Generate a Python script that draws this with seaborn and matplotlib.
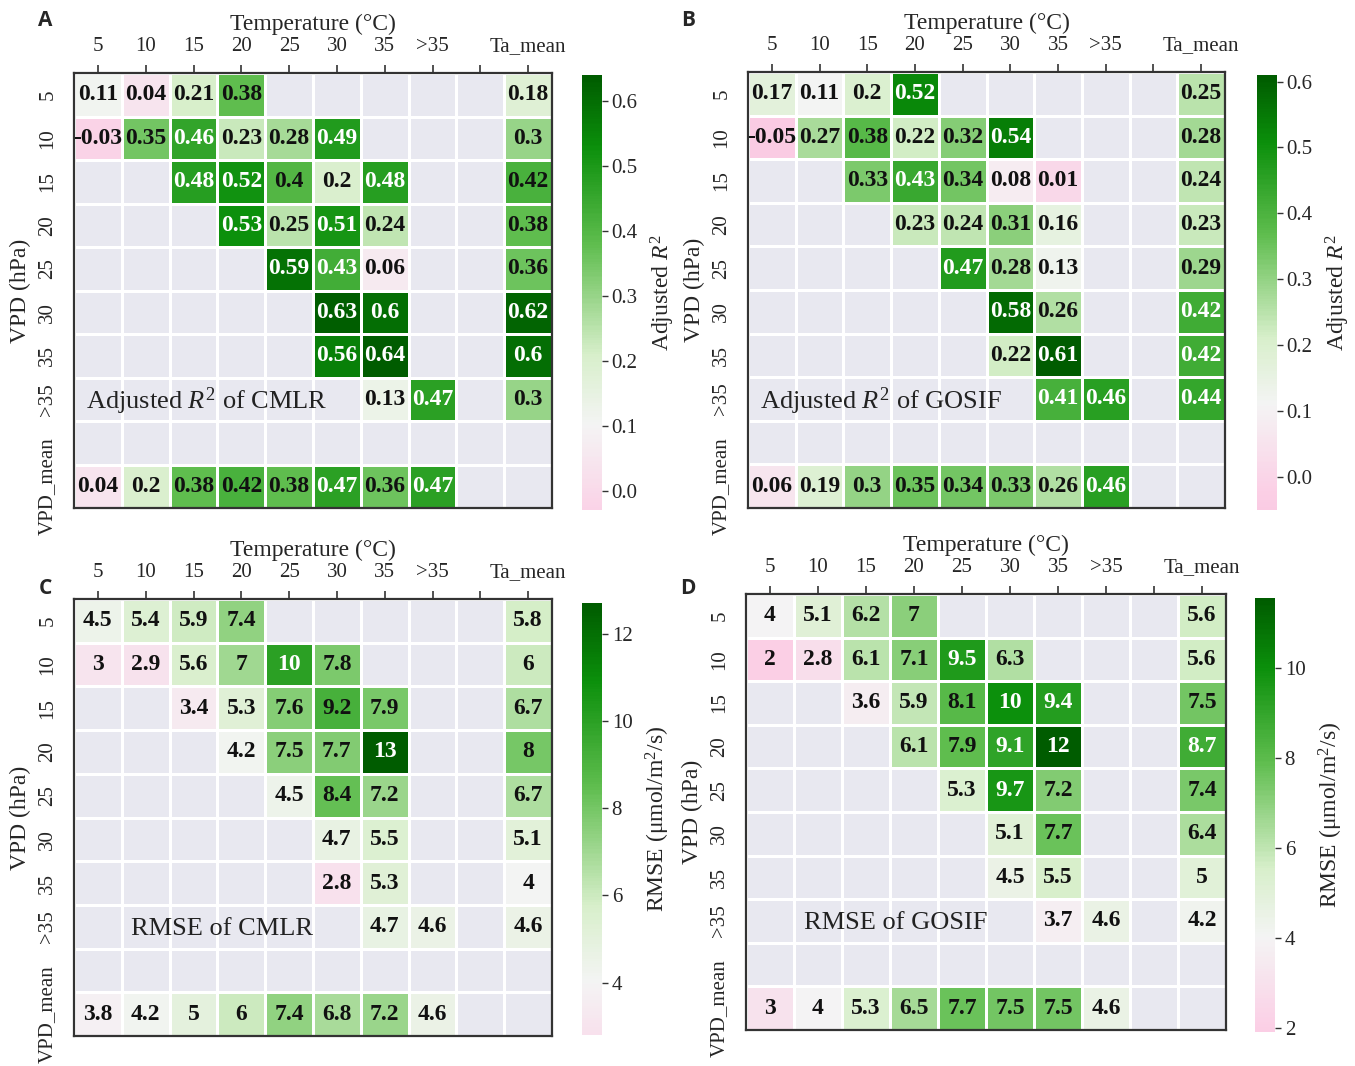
import numpy as np
import pandas as pd
import matplotlib
matplotlib.use('Agg')
import matplotlib.pyplot as plt
import seaborn as sns
from matplotlib.colors import LinearSegmentedColormap, ListedColormap

nan = np.nan

# axis categories
temp_labels = ['5', '10', '15', '20', '25', '30', '35', '>35', '', 'Ta_mean']
vpd_labels = ['5', '10', '15', '20', '25', '30', '35', '>35', '', 'VPD_mean']

# adjusted R2 of CMLR
r2_cmlr = [
    [0.11, 0.04, 0.21, 0.38, nan, nan, nan, nan, nan, 0.18],
    [-0.03, 0.35, 0.46, 0.23, 0.28, 0.49, nan, nan, nan, 0.3],
    [nan, nan, 0.48, 0.52, 0.4, 0.2, 0.48, nan, nan, 0.42],
    [nan, nan, nan, 0.53, 0.25, 0.51, 0.24, nan, nan, 0.38],
    [nan, nan, nan, nan, 0.59, 0.43, 0.06, nan, nan, 0.36],
    [nan, nan, nan, nan, nan, 0.63, 0.6, nan, nan, 0.62],
    [nan, nan, nan, nan, nan, 0.56, 0.64, nan, nan, 0.6],
    [nan, nan, nan, nan, nan, nan, 0.13, 0.47, nan, 0.3],
    [nan, nan, nan, nan, nan, nan, nan, nan, nan, nan],
    [0.04, 0.2, 0.38, 0.42, 0.38, 0.47, 0.36, 0.47, nan, nan],
]

# adjusted R2 of GOSIF
r2_gosif = [
    [0.17, 0.11, 0.2, 0.52, nan, nan, nan, nan, nan, 0.25],
    [-0.05, 0.27, 0.38, 0.22, 0.32, 0.54, nan, nan, nan, 0.28],
    [nan, nan, 0.33, 0.43, 0.34, 0.08, 0.01, nan, nan, 0.24],
    [nan, nan, nan, 0.23, 0.24, 0.31, 0.16, nan, nan, 0.23],
    [nan, nan, nan, nan, 0.47, 0.28, 0.13, nan, nan, 0.29],
    [nan, nan, nan, nan, nan, 0.58, 0.26, nan, nan, 0.42],
    [nan, nan, nan, nan, nan, 0.22, 0.61, nan, nan, 0.42],
    [nan, nan, nan, nan, nan, nan, 0.41, 0.46, nan, 0.44],
    [nan, nan, nan, nan, nan, nan, nan, nan, nan, nan],
    [0.06, 0.19, 0.3, 0.35, 0.34, 0.33, 0.26, 0.46, nan, nan],
]

# RMSE of CMLR
rmse_cmlr = [
    [4.5, 5.4, 5.9, 7.4, nan, nan, nan, nan, nan, 5.8],
    [3, 2.9, 5.6, 7, 10, 7.8, nan, nan, nan, 6],
    [nan, nan, 3.4, 5.3, 7.6, 9.2, 7.9, nan, nan, 6.7],
    [nan, nan, nan, 4.2, 7.5, 7.7, 13, nan, nan, 8],
    [nan, nan, nan, nan, 4.5, 8.4, 7.2, nan, nan, 6.7],
    [nan, nan, nan, nan, nan, 4.7, 5.5, nan, nan, 5.1],
    [nan, nan, nan, nan, nan, 2.8, 5.3, nan, nan, 4],
    [nan, nan, nan, nan, nan, nan, 4.7, 4.6, nan, 4.6],
    [nan, nan, nan, nan, nan, nan, nan, nan, nan, nan],
    [3.8, 4.2, 5, 6, 7.4, 6.8, 7.2, 4.6, nan, nan],
]

# RMSE of GOSIF
rmse_gosif = [
    [4, 5.1, 6.2, 7, nan, nan, nan, nan, nan, 5.6],
    [2, 2.8, 6.1, 7.1, 9.5, 6.3, nan, nan, nan, 5.6],
    [nan, nan, 3.6, 5.9, 8.1, 10, 9.4, nan, nan, 7.5],
    [nan, nan, nan, 6.1, 7.9, 9.1, 12, nan, nan, 8.7],
    [nan, nan, nan, nan, 5.3, 9.7, 7.2, nan, nan, 7.4],
    [nan, nan, nan, nan, nan, 5.1, 7.7, nan, nan, 6.4],
    [nan, nan, nan, nan, nan, 4.5, 5.5, nan, nan, 5],
    [nan, nan, nan, nan, nan, nan, 3.7, 4.6, nan, 4.2],
    [nan, nan, nan, nan, nan, nan, nan, nan, nan, nan],
    [3, 4, 5.3, 6.5, 7.7, 7.5, 7.5, 4.6, nan, nan],
]

sns.set_theme(style='darkgrid')
plt.rcParams['font.family'] = ['Liberation Serif', 'DejaVu Serif']
plt.rcParams['mathtext.fontset'] = 'custom'
plt.rcParams['mathtext.rm'] = 'Liberation Serif'
plt.rcParams['mathtext.it'] = 'Liberation Serif:italic'

# diverging pink-white-green, recentred by seaborn's `center`
cmap = LinearSegmentedColormap.from_list('pg', [
    (0.0, '#ee8fc2'), (0.37, '#fbd0e6'), (0.5, '#f4f4f4'), (0.6, '#d8efcb'),
    (0.76, '#5fbd4e'), (0.9, '#0b8f0b'), (1.0, '#005c00')])
bg_cmap = ListedColormap(['#e8e8f0'])

W, H = 1355, 1066
fig = plt.figure(figsize=(W / 100, H / 100), dpi=100)
fig.patch.set_facecolor('white')


def px_axes(x0, y0, x1, y1):
    return fig.add_axes([x0 / W, 1 - y1 / H, (x1 - x0) / W, (y1 - y0) / H])


panels = [
    # letter, data, heat box, cbar box, vmin, vmax, center, ticks, cbar label, note, note col, letter pos
    ('A', r2_cmlr, (74, 73, 552, 508), (582, 75, 602, 510), -0.03, 0.64, 0.1,
     [0, 0.1, 0.2, 0.3, 0.4, 0.5, 0.6], 'Adjusted $R^2$', 'Adjusted $R^2$ of CMLR', 0.25, (45, 20)),
    ('B', r2_gosif, (748, 72, 1225, 508), (1257, 75, 1277, 510), -0.05, 0.61, 0.11,
     [0, 0.1, 0.2, 0.3, 0.4, 0.5, 0.6], 'Adjusted $R^2$', 'Adjusted $R^2$ of GOSIF', 0.25, (688, 20)),
    ('C', rmse_cmlr, (74, 599, 552, 1036), (582, 603, 602, 1035), 2.8, 12.7, 4.0,
     [4, 6, 8, 10, 12], 'RMSE (μmol/m$^2$/s)', 'RMSE of CMLR', 1.2, (45, 588)),
    ('D', rmse_gosif, (746, 594, 1226, 1030), (1255, 598, 1275, 1032), 1.9, 11.55, 4.0,
     [2, 4, 6, 8, 10], 'RMSE (μmol/m$^2$/s)', 'RMSE of GOSIF', 1.2, (688, 588)),
]

for letter, vals, hbox, cbox, vmin, vmax, center, cticks, clabel, note, note_x, lpos in panels:
    df = pd.DataFrame(vals, index=vpd_labels, columns=temp_labels)
    ax = px_axes(*hbox)
    cax = px_axes(*cbox)

    # grey background grid for empty cells
    sns.heatmap(np.zeros(df.shape), cmap=bg_cmap, cbar=False, linewidths=2,
                linecolor='white', ax=ax)
    sns.heatmap(df, cmap=cmap, vmin=vmin, vmax=vmax, center=center, annot=True, fmt='g',
                linewidths=2, linecolor='white', ax=ax, cbar_ax=cax,
                annot_kws={'fontsize': 17, 'fontweight': 'bold'},
                xticklabels=temp_labels, yticklabels=vpd_labels)

    # text colour: white on dark cells
    flat = df.values[~np.isnan(df.values)]
    for t, v in zip(ax.texts, flat):
        frac = (v - vmin) / (vmax - vmin)
        t.set_color('white' if frac > 0.677 else '#111111')

    ax.xaxis.tick_top()
    ax.xaxis.set_label_position('top')
    ax.set_xlabel('Temperature (°C)', fontsize=17, labelpad=5)
    ax.set_ylabel('VPD (hPa)', fontsize=17, labelpad=5)
    ax.tick_params(axis='both', length=6, width=1.2, color='#333333',
                   labelsize=15, pad=6)
    plt.setp(ax.get_xticklabels(), rotation=0)
    plt.setp(ax.get_yticklabels(), rotation=90, va='center')
    for sp in ax.spines.values():
        sp.set_visible(True)
        sp.set_color('#333333')
        sp.set_linewidth(1.6)

    ax.text(note_x, 7.55, note, fontsize=19, ha='left', va='center', color='#222222')

    cb = ax.collections[-1].colorbar
    cb.outline.set_visible(False)
    cb.set_ticks(cticks)
    if vmax < 1:
        cb.set_ticklabels([f'{c:.1f}' for c in cticks])
    cb.ax.tick_params(length=4, width=1, color='#333333', labelsize=15, pad=3)
    cb.set_label(clabel, fontsize=17, labelpad=8)

    fig.text(lpos[0] / W, 1 - lpos[1] / H, letter, fontsize=15, fontweight='bold',
             family='Open Sans', ha='center', va='center')

fig.savefig('out.png', dpi=100)
